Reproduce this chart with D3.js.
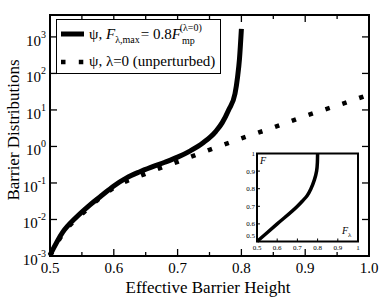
<!DOCTYPE html>
<html>
<head>
<meta charset="utf-8">
<script src="https://cdn.jsdelivr.net/npm/d3@7"></script>
<style>
  body { margin: 0; background: #fff; }
  svg { display: block; }
  text { font-family: "Liberation Serif", "DejaVu Serif", serif; fill: #000; }
</style>
</head>
<body>
<div id="chart"></div>
<script>
// main plot: perturbed (solid) curve
var solidX = [0.5, 0.52, 0.54, 0.56, 0.58, 0.6, 0.62, 0.64, 0.66, 0.68, 0.7, 0.72, 0.74, 0.76, 0.77, 0.78, 0.79, 0.794, 0.797, 0.8];
var solidY = [0.00105, 0.0045, 0.011, 0.023, 0.044, 0.083, 0.138, 0.2, 0.275, 0.37, 0.51, 0.76, 1.26, 2.6, 4.5, 10, 28, 80, 250, 1650];
// main plot: unperturbed (dotted) curve
var dotX = [0.5, 0.52, 0.55, 0.6, 0.65, 0.7, 0.75, 0.8, 0.85, 0.9, 0.95, 1.0];
var dotY = [0.001, 0.004, 0.014, 0.074, 0.18, 0.38, 0.81, 1.66, 3.3, 6.8, 13.2, 26.3];
// inset: F vs F_lambda
var insetFl = [0.5, 0.6, 0.7, 0.725, 0.748, 0.767, 0.784, 0.795, 0.799, 0.8];
var insetF  = [0.5, 0.6, 0.7, 0.73, 0.76, 0.8, 0.85, 0.9, 0.95, 1.0];

var xMajor = [0.5, 0.6, 0.7, 0.8, 0.9, 1.0];
var xMinor = [0.55, 0.65, 0.75, 0.85, 0.95];
var yExps = [-3, -2, -1, 0, 1, 2, 3];
var insetTicks = [0.5, 0.6, 0.7, 0.8, 0.9, 1];
var insetTickLabels = ["0.5", "0.6", "0.7", "0.8", "0.9", "1"];

var w = 382, h = 298;
var pL = 50, pR = 369, pT = 15, pB = 256;

var svg = d3.select("#chart").append("svg")
    .attr("width", w)
    .attr("height", h);

var x = d3.scaleLinear().domain([0.5, 1.0]).range([pL, pR]);
var y = d3.scaleLog().domain([1e-3, Math.pow(10, 3.6)]).range([pB, pT]);

var line = d3.line()
    .x(function(d) { return x(d[0]); })
    .y(function(d) { return y(d[1]); })
    .curve(d3.curveMonotoneX);

// dotted curve
svg.append("path")
    .datum(d3.zip(dotX, dotY))
    .attr("d", line)
    .attr("fill", "none")
    .attr("stroke", "#000")
    .attr("stroke-width", 4.5)
    .attr("stroke-dasharray", "4.5,13.3");

// solid curve
svg.append("path")
    .datum(d3.zip(solidX, solidY))
    .attr("d", line)
    .attr("fill", "none")
    .attr("stroke", "#000")
    .attr("stroke-width", 5);

// ticks (inward) on all four sides
var ticks = svg.append("g").attr("stroke", "#000").attr("stroke-width", 1.3);
xMajor.forEach(function(v) {
    ticks.append("line").attr("x1", x(v)).attr("x2", x(v)).attr("y1", pB).attr("y2", pB - 7);
    ticks.append("line").attr("x1", x(v)).attr("x2", x(v)).attr("y1", pT).attr("y2", pT + 7);
});
xMinor.forEach(function(v) {
    ticks.append("line").attr("x1", x(v)).attr("x2", x(v)).attr("y1", pB).attr("y2", pB - 4);
    ticks.append("line").attr("x1", x(v)).attr("x2", x(v)).attr("y1", pT).attr("y2", pT + 4);
});
yExps.forEach(function(e) {
    var yy = y(Math.pow(10, e));
    ticks.append("line").attr("x1", pL).attr("x2", pL + 7).attr("y1", yy).attr("y2", yy);
    ticks.append("line").attr("x1", pR).attr("x2", pR - 7).attr("y1", yy).attr("y2", yy);
});

// frame
svg.append("rect")
    .attr("x", pL).attr("y", pT)
    .attr("width", pR - pL).attr("height", pB - pT)
    .attr("fill", "none").attr("stroke", "#000").attr("stroke-width", 2);

// x tick labels
svg.selectAll(".xl")
    .data(xMajor)
    .enter()
    .append("text")
    .attr("x", function(d) { return x(d); })
    .attr("y", 273)
    .attr("text-anchor", "middle")
    .style("font-size", "15px")
    .text(function(d) { return d.toFixed(1); });

// y tick labels
var yl = svg.selectAll(".yl")
    .data(yExps)
    .enter()
    .append("text")
    .attr("x", 46)
    .attr("y", function(d) { return y(Math.pow(10, d)) + 9; })
    .attr("text-anchor", "end")
    .style("font-size", "15px");
yl.append("tspan").text("10");
yl.append("tspan")
    .attr("dy", -8)
    .style("font-size", "10px")
    .text(function(d) { return d < 0 ? "-" + (-d) : d; });

// axis titles
svg.append("text")
    .attr("x", 208).attr("y", 293)
    .attr("text-anchor", "middle")
    .style("font-size", "17px")
    .text("Effective Barrier Height");

svg.append("text")
    .attr("transform", "translate(19,130) rotate(-90)")
    .attr("text-anchor", "middle")
    .style("font-size", "17px")
    .text("Barrier Distributions");

// legend
var lg = svg.append("g");
lg.append("rect")
    .attr("x", 56.5).attr("y", 19.5)
    .attr("width", 164).attr("height", 54)
    .attr("fill", "#fff").attr("stroke", "#000").attr("stroke-width", 1);
lg.append("line")
    .attr("x1", 61).attr("x2", 84).attr("y1", 34).attr("y2", 34)
    .attr("stroke", "#000").attr("stroke-width", 5);
lg.append("line")
    .attr("x1", 61).attr("x2", 84).attr("y1", 62).attr("y2", 62)
    .attr("stroke", "#000").attr("stroke-width", 4.5)
    .attr("stroke-dasharray", "4.5,13.3");

var t1 = lg.append("text").attr("x", 89).attr("y", 39).style("font-size", "15px");
t1.append("tspan").text("ψ,");
t1.append("tspan").attr("x", 106).style("font-style", "italic").text("F");
t1.append("tspan").attr("dy", 4).style("font-size", "10px").text("λ,max");
t1.append("tspan").attr("dy", -4).attr("dx", 1).text("= 0.8");
t1.append("tspan").style("font-style", "italic").text("F");
t1.append("tspan").attr("dy", 5).attr("dx", 1).style("font-size", "10px").text("mp");
t1.append("tspan").attr("dy", -13).attr("dx", -15).style("font-size", "10px").text("(λ=0)");

lg.append("text").attr("x", 89).attr("y", 66).style("font-size", "15px")
    .text("ψ,  λ=0 (unperturbed)");

// inset
var iL = 257, iR = 358, iT = 153.5, iB = 241.5;
var ix = d3.scaleLinear().domain([0.5, 1]).range([iL, iR]);
var iy = d3.scaleLinear().domain([0.5, 1]).range([iB, iT]);

var inset = svg.append("g");
inset.append("rect")
    .attr("x", iL).attr("y", iT)
    .attr("width", iR - iL).attr("height", iB - iT)
    .attr("fill", "#fff");

inset.append("path")
    .datum(d3.zip(insetFl, insetF))
    .attr("d", d3.line()
        .x(function(d) { return ix(d[0]); })
        .y(function(d) { return iy(d[1]); })
        .curve(d3.curveMonotoneY))
    .attr("fill", "none")
    .attr("stroke", "#000")
    .attr("stroke-width", 3.5);

insetTicks.forEach(function(v) {
    inset.append("line").attr("x1", ix(v)).attr("x2", ix(v)).attr("y1", iB).attr("y2", iB - 3)
        .attr("stroke", "#000").attr("stroke-width", 1);
    inset.append("line").attr("x1", iL).attr("x2", iL + 3).attr("y1", iy(v)).attr("y2", iy(v))
        .attr("stroke", "#000").attr("stroke-width", 1);
});

inset.append("rect")
    .attr("x", iL).attr("y", iT)
    .attr("width", iR - iL).attr("height", iB - iT)
    .attr("fill", "none").attr("stroke", "#000").attr("stroke-width", 2);

inset.selectAll(".ixl")
    .data(insetTicks)
    .enter()
    .append("text")
    .attr("x", function(d) { return ix(d); })
    .attr("y", 250)
    .attr("text-anchor", "middle")
    .style("font-size", "7px")
    .text(function(d, i) { return insetTickLabels[i]; });

inset.selectAll(".iyl")
    .data(insetTicks)
    .enter()
    .append("text")
    .attr("x", 255)
    .attr("y", function(d) { return d === 0.5 ? iy(d) - 4 : iy(d) + 2.5; })
    .attr("text-anchor", "end")
    .style("font-size", "7px")
    .text(function(d, i) { return insetTickLabels[i]; });

inset.append("text")
    .attr("x", 260).attr("y", 164)
    .style("font-size", "10px").style("font-style", "italic")
    .text("F");

var fl = inset.append("text").attr("x", 342).attr("y", 234).style("font-size", "10px");
fl.append("tspan").style("font-style", "italic").text("F");
fl.append("tspan").attr("dy", 3).style("font-size", "7px").text("λ");
</script>
</body>
</html>
